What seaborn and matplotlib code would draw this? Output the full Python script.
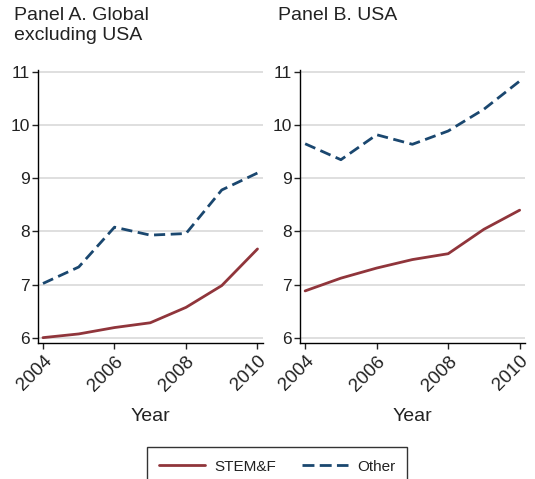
import matplotlib
matplotlib.use("Agg")
import matplotlib.pyplot as plt
import pandas as pd
import seaborn as sns

# ── Data ──────────────────────────────────────────────────────────────────────
years = [2004, 2005, 2006, 2007, 2008, 2009, 2010]
global_stemf = [6.00, 6.07, 6.19, 6.28, 6.57, 6.98, 7.67]
global_other = [7.02, 7.33, 8.08, 7.93, 7.96, 8.78, 9.10]
usa_stemf = [6.88, 7.12, 7.31, 7.47, 7.58, 8.04, 8.40]
usa_other = [9.65, 9.35, 9.82, 9.64, 9.89, 10.30, 10.83]
panel_titles = ["Panel A. Global\nexcluding USA", "Panel B. USA"]
groups = ["STEM&F", "Other"]
year_ticks = [2004, 2006, 2008, 2010]
y_ticks = [6, 7, 8, 9, 10, 11]

RED = "#90353b"
BLUE = "#1a476f"
INK = "#222222"

sns.set_theme(style="white")
plt.rcParams["font.family"] = ["Liberation Sans", "DejaVu Sans"]
plt.rcParams.update({"text.color": INK, "axes.labelcolor": INK,
                     "xtick.color": INK, "ytick.color": INK})


def long_frame(stemf, other):
    return pd.DataFrame({
        "Year": years * 2,
        "value": stemf + other,
        "group": [groups[0]] * len(years) + [groups[1]] * len(years),
    })


fig = plt.figure(figsize=(5.35, 4.79), dpi=100)
axes = [fig.add_axes([0.071, 0.284, 0.421, 0.570]),
        fig.add_axes([0.561, 0.284, 0.421, 0.570])]

panels = [(global_stemf, global_other), (usa_stemf, usa_other)]
title_x = [0.026, 0.52]
for ax, (stemf, other), title, tx in zip(axes, panels, panel_titles, title_x):
    df = long_frame(stemf, other)
    sns.lineplot(
        data=df, x="Year", y="value", hue="group", style="group",
        palette={groups[0]: RED, groups[1]: BLUE},
        dashes={groups[0]: "", groups[1]: (4, 2)},
        linewidth=2, ax=ax, legend=False,
    )
    ax.set_xlim(2003.86, 2010.16)
    ax.set_ylim(5.9, 11.04)
    ax.set_xticks(year_ticks)
    ax.set_yticks(y_ticks)
    ax.set_xticklabels([str(y) for y in year_ticks], rotation=45, ha="right",
                       rotation_mode="anchor", fontsize=13.5)
    ax.tick_params(axis="y", labelsize=12.5, length=4, width=1, left=True, pad=2)
    ax.tick_params(axis="x", length=4, width=1, bottom=True, pad=3)
    ax.yaxis.grid(True, color="#d9d9d9", linewidth=1.2)
    ax.set_axisbelow(True)
    for side in ["top", "right"]:
        ax.spines[side].set_visible(False)
    for side in ["left", "bottom"]:
        ax.spines[side].set_color("black")
        ax.spines[side].set_linewidth(1)
    ax.set_xlabel("Year", fontsize=14, labelpad=10)
    ax.set_ylabel("")
    fig.text(tx, 0.985, title, ha="left", va="top", fontsize=14,
             linespacing=1.2)

# ── Legend ────────────────────────────────────────────────────────────────────
handles = [
    plt.Line2D([0], [0], color=RED, linewidth=2),
    plt.Line2D([0], [0], color=BLUE, linewidth=2, dashes=(4.3, 1.9)),
]
leg = fig.legend(handles, groups, loc="upper center", bbox_to_anchor=(0.518, 0.066),
                 ncol=2, frameon=True, fancybox=False, fontsize=11,
                 handlelength=3.0, handletextpad=0.6, columnspacing=1.7,
                 borderpad=0.8, borderaxespad=0)
leg.get_frame().set_edgecolor("black")
leg.get_frame().set_linewidth(1)

fig.savefig("out.png", dpi=100)
